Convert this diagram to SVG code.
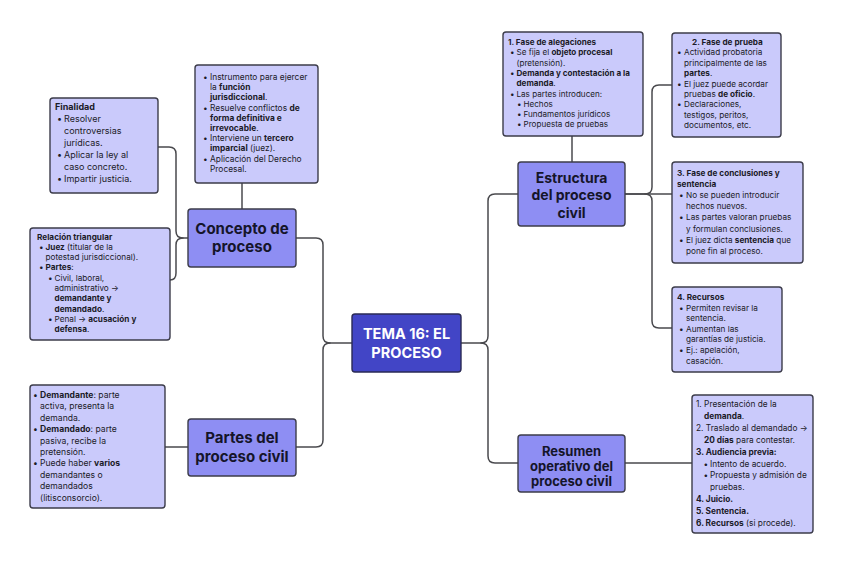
<svg xmlns="http://www.w3.org/2000/svg" width="848" height="565" viewBox="0 0 848 565">
<style>
.bg{fill:#ffffff}
.info{fill:#cacafb;stroke:#3c3c4a;stroke-width:1.4}
.main{fill:#8e8ef3;stroke:#3c3c4a;stroke-width:1.4}
.root{fill:#4245c6;stroke:#2a2a55;stroke-width:1.4}
.c{fill:none;stroke:#4a4a4e;stroke-width:1.5;stroke-linecap:round;stroke-linejoin:round}
text{font-family:Inter,"Liberation Sans","DejaVu Sans",sans-serif;fill:#1b1b28}
.b{font-weight:700}
.mt{font-weight:700;font-size:15px;text-anchor:middle;fill:#15152a}
.rt{font-weight:700;font-size:14.5px;text-anchor:middle;fill:#ffffff}
.s9{font-size:9px}
.s86{font-size:8.6px}
.s84{font-size:8.4px}
.s83{font-size:8.3px}
.s82{font-size:8.2px}
.s81{font-size:8.1px}
</style>
<rect class="bg" x="0" y="0" width="848" height="565"/>

<g id="connectors">
<path class="c" d="M352,343 H330 Q323,343 323,336 V245 Q323,238 316,238 H296"/>
<path class="c" d="M330,343 Q323,343 323,350 V440 Q323,447 316,447 H296"/>
<path class="c" d="M188,238 H183 Q176,238 176,231 V154 Q176,147 169,147 H158"/>
<path class="c" d="M183,238 Q176,238 176,245 V273 Q176,280 170,280"/>
<path class="c" d="M242,209 V183"/>
<path class="c" d="M188,447 H165"/>
<path class="c" d="M461,343 H481 Q488,343 488,336 V201 Q488,194 495,194 H518"/>
<path class="c" d="M481,343 Q488,343 488,350 V456 Q488,463 495,463 H518"/>
<path class="c" d="M572,162 V136"/>
<path class="c" d="M625,194 H645 Q652,194 652,187 V92 Q652,85 659,85 H672"/>
<path class="c" d="M625,194 H672"/>
<path class="c" d="M645,194 Q652,194 652,201 V321 Q652,328 659,328 H672"/>
<path class="c" d="M625,463 H692"/>
</g>

<g id="tema">
<rect class="root" x="352" y="314" width="109" height="58" rx="3"/>
<text class="rt" x="406.5" y="339">TEMA 16: EL</text>
<text class="rt" x="406.5" y="358">PROCESO</text>
</g>

<g id="concepto">
<rect class="main" x="188" y="209" width="108" height="58" rx="3"/>
<text class="mt" x="242" y="234">Concepto de</text>
<text class="mt" x="242" y="252">proceso</text>
</g>

<g id="partes">
<rect class="main" x="188" y="419" width="108" height="57" rx="3"/>
<text class="mt" x="242" y="443">Partes del</text>
<text class="mt" x="242" y="462">proceso civil</text>
</g>

<g id="estructura">
<rect class="main" x="518" y="162" width="107" height="64" rx="3"/>
<text class="mt" x="571.5" y="182.5" style="font-size:14px">Estructura</text>
<text class="mt" x="571.5" y="200" style="font-size:14px">del proceso</text>
<text class="mt" x="571.5" y="217.5" style="font-size:14px">civil</text>
</g>

<g id="resumen">
<rect class="main" x="518" y="435" width="107" height="57" rx="3"/>
<text class="mt" x="571.5" y="456" style="font-size:13px">Resumen</text>
<text class="mt" x="571.5" y="471" style="font-size:13px">operativo del</text>
<text class="mt" x="571.5" y="486" style="font-size:13px">proceso civil</text>
</g>

<g id="finalidad" class="s9">
<rect class="info" x="50" y="98" width="108" height="95" rx="3"/>
<text class="b" x="55" y="110">Finalidad</text>
<text x="57" y="122">•</text><text x="64" y="122">Resolver</text>
<text x="64" y="134">controversias</text>
<text x="64" y="146">jurídicas.</text>
<text x="57" y="158">•</text><text x="64" y="158">Aplicar la ley al</text>
<text x="64" y="170">caso concreto.</text>
<text x="57" y="182">•</text><text x="64" y="182">Impartir justicia.</text>
</g>

<g id="concepto-info" class="s84">
<rect class="info" x="195" y="65" width="123" height="118" rx="3"/>
<text x="203" y="80">•</text><text x="210" y="80">Instrumento para ejercer</text>
<text x="210" y="90.2">la <tspan class="b">función</tspan></text>
<text x="210" y="100.4"><tspan class="b">jurisdiccional</tspan>.</text>
<text x="203" y="110.6">•</text><text x="210" y="110.6">Resuelve conflictos <tspan class="b">de</tspan></text>
<text x="210" y="120.8" class="b">forma definitiva e</text>
<text x="210" y="131"><tspan class="b">irrevocable</tspan>.</text>
<text x="203" y="141.2">•</text><text x="210" y="141.2">Interviene un <tspan class="b">tercero</tspan></text>
<text x="210" y="151.4"><tspan class="b">imparcial</tspan> (juez).</text>
<text x="203" y="161.6">•</text><text x="210" y="161.6">Aplicación del Derecho</text>
<text x="210" y="171.8">Procesal.</text>
</g>

<g id="relacion" class="s82">
<rect class="info" x="30" y="228" width="140" height="112" rx="3"/>
<text class="b" x="37" y="239.5">Relación triangular</text>
<text x="39" y="249.8">•</text><text x="45.5" y="249.8"><tspan class="b">Juez</tspan> (titular de la</text>
<text x="45.5" y="260.1">potestad jurisdiccional).</text>
<text x="39" y="270.4">•</text><text x="45.5" y="270.4"><tspan class="b">Partes</tspan>:</text>
<text x="48" y="280.7">•</text><text x="54.5" y="280.7">Civil, laboral,</text>
<text x="54.5" y="291">administrativo →</text>
<text x="54.5" y="301.3" class="b">demandante y</text>
<text x="54.5" y="311.6"><tspan class="b">demandado</tspan>.</text>
<text x="48" y="321.9">•</text><text x="54.5" y="321.9">Penal → <tspan class="b">acusación y</tspan></text>
<text x="54.5" y="332.2"><tspan class="b">defensa</tspan>.</text>
</g>

<g id="partes-info" class="s86">
<rect class="info" x="30" y="385" width="135" height="123" rx="3"/>
<text x="33" y="398">•</text><text x="40" y="398"><tspan class="b">Demandante</tspan>: parte</text>
<text x="40" y="409.4">activa, presenta la</text>
<text x="40" y="420.8">demanda.</text>
<text x="33" y="432.2">•</text><text x="40" y="432.2"><tspan class="b">Demandado</tspan>: parte</text>
<text x="40" y="443.6">pasiva, recibe la</text>
<text x="40" y="455">pretensión.</text>
<text x="33" y="466.4">•</text><text x="40" y="466.4">Puede haber <tspan class="b">varios</tspan></text>
<text x="40" y="477.8">demandantes o</text>
<text x="40" y="489.2">demandados</text>
<text x="40" y="500.6">(litisconsorcio).</text>
</g>

<g id="alegaciones" class="s81">
<rect class="info" x="503" y="32" width="140" height="104" rx="3"/>
<text class="b" x="508" y="45">1. Fase de alegaciones</text>
<text x="510" y="55.3">•</text><text x="516.5" y="55.3">Se fija el <tspan class="b">objeto procesal</tspan></text>
<text x="516.5" y="65.6">(pretensión).</text>
<text x="510" y="75.9">•</text><text x="516.5" y="75.9" class="b">Demanda y contestación a la</text>
<text x="516.5" y="86.2"><tspan class="b">demanda</tspan>.</text>
<text x="510" y="96.5">•</text><text x="516.5" y="96.5">Las partes introducen:</text>
<text x="517" y="106.8">•</text><text x="523.5" y="106.8">Hechos</text>
<text x="517" y="117.1">•</text><text x="523.5" y="117.1">Fundamentos jurídicos</text>
<text x="517" y="127.4">•</text><text x="523.5" y="127.4">Propuesta de pruebas</text>
</g>

<g id="prueba" class="s82">
<rect class="info" x="672" y="33" width="109" height="104" rx="3"/>
<text class="b" x="692" y="45">2. Fase de prueba</text>
<text x="677" y="55.4">•</text><text x="684" y="55.4">Actividad probatoria</text>
<text x="684" y="65.8">principalmente de las</text>
<text x="684" y="76.2"><tspan class="b">partes</tspan>.</text>
<text x="677" y="86.6">•</text><text x="684" y="86.6">El juez puede acordar</text>
<text x="684" y="97">pruebas <tspan class="b">de oficio</tspan>.</text>
<text x="677" y="107.4">•</text><text x="684" y="107.4">Declaraciones,</text>
<text x="684" y="117.8">testigos, peritos,</text>
<text x="684" y="128.2">documentos, etc.</text>
</g>

<g id="conclusiones" class="s82">
<rect class="info" x="672" y="162" width="131" height="101" rx="3"/>
<text class="b" x="677" y="176">3. Fase de conclusiones y</text>
<text class="b" x="677" y="187.1">sentencia</text>
<text x="679" y="198.2">•</text><text x="686" y="198.2">No se pueden introducir</text>
<text x="686" y="209.3">hechos nuevos.</text>
<text x="679" y="220.4">•</text><text x="686" y="220.4">Las partes valoran pruebas</text>
<text x="686" y="231.5">y formulan conclusiones.</text>
<text x="679" y="242.6">•</text><text x="686" y="242.6">El juez dicta <tspan class="b">sentencia</tspan> que</text>
<text x="686" y="253.7">pone fin al proceso.</text>
</g>

<g id="recursos" class="s82">
<rect class="info" x="672" y="287" width="110" height="85" rx="3"/>
<text class="b" x="677" y="300">4. Recursos</text>
<text x="679" y="310.6">•</text><text x="686" y="310.6">Permiten revisar la</text>
<text x="686" y="321.2">sentencia.</text>
<text x="679" y="331.8">•</text><text x="686" y="331.8">Aumentan las</text>
<text x="686" y="342.4">garantías de justicia.</text>
<text x="679" y="353">•</text><text x="686" y="353">Ej.: apelación,</text>
<text x="686" y="363.6">casación.</text>
</g>

<g id="resumen-info" class="s83">
<rect class="info" x="692" y="395" width="121" height="138" rx="3"/>
<text x="696" y="407">1. Presentación de la</text>
<text x="704" y="418.9"><tspan class="b">demanda</tspan>.</text>
<text x="696" y="430.8">2. Traslado al demandado →</text>
<text x="704" y="442.7"><tspan class="b">20 días</tspan> para contestar.</text>
<text x="696" y="454.6" class="b">3. Audiencia previa:</text>
<text x="703.5" y="466.5">•</text><text x="710" y="466.5">Intento de acuerdo.</text>
<text x="703.5" y="478.4">•</text><text x="710" y="478.4">Propuesta y admisión de</text>
<text x="710" y="490.3">pruebas.</text>
<text x="696" y="502.2" class="b">4. Juicio.</text>
<text x="696" y="514.1" class="b">5. Sentencia.</text>
<text x="696" y="526"><tspan class="b">6. Recursos</tspan> (si procede).</text>
</g>
</svg>
